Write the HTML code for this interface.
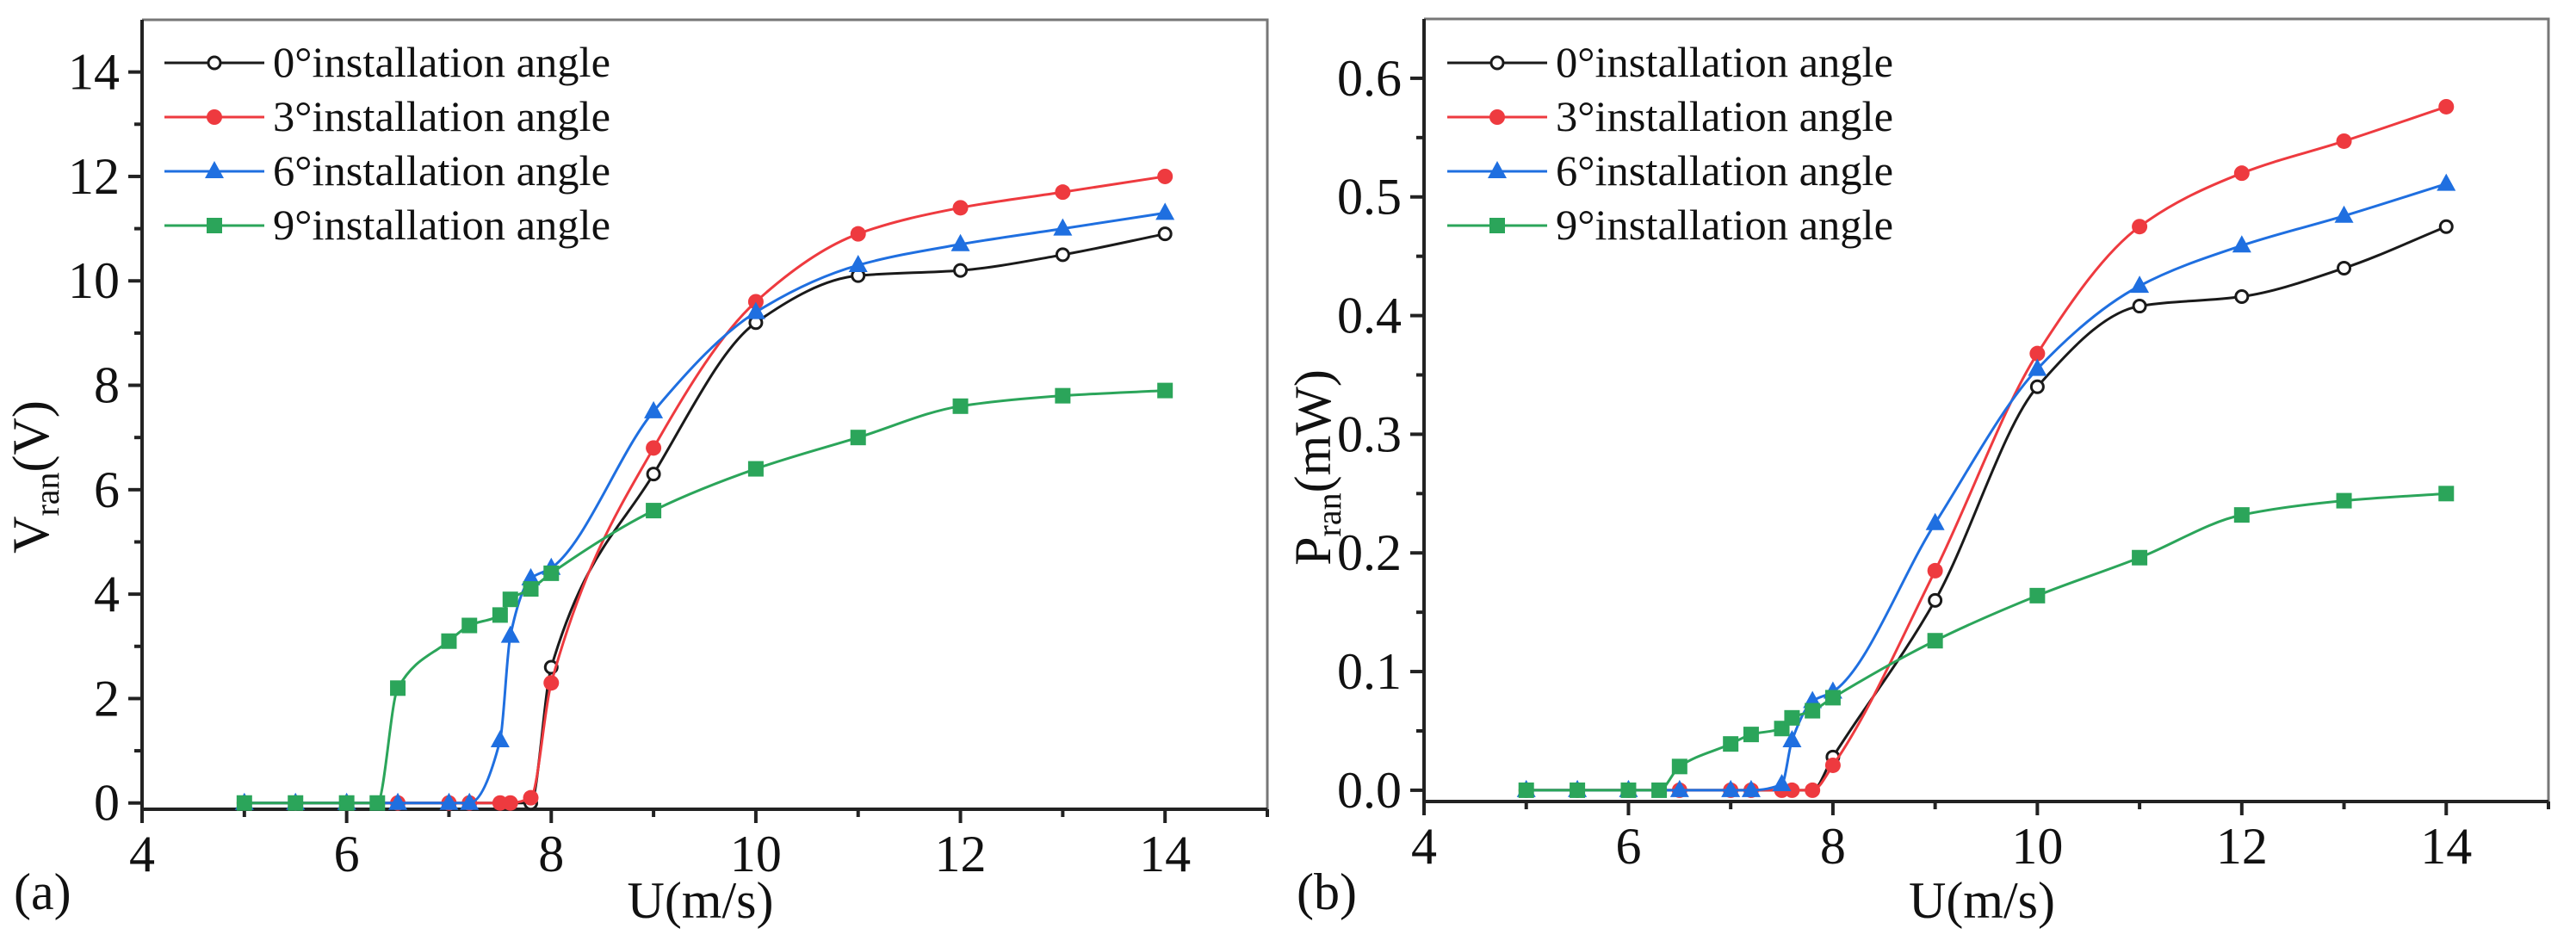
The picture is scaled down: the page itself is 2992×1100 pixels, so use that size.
<!DOCTYPE html>
<html><head><meta charset="utf-8"><style>
html,body{margin:0;padding:0;background:#fff;}
svg{display:block;}
text{font-family:"Liberation Serif","DejaVu Serif",serif;}
</style></head><body>
<svg id="chart" width="2992" height="1100" viewBox="0 0 2992 1100" xmlns="http://www.w3.org/2000/svg" font-family="Liberation Serif, DejaVu Serif, serif"></svg>
<script>
const xs0 = [5,5.5,6,6.5,7,7.2,7.5,7.6,7.8,8,9,10,11,12,13,14];
const xs9 = [5,5.5,6,6.3,6.5,7,7.2,7.5,7.6,7.8,8,9,10,11,12,13,14];
const seriesNames = ["0°installation angle","3°installation angle","6°installation angle","9°installation angle"];
const vA0 = [0,0,0,0,0,0,0,0,0,2.6,6.3,9.2,10.1,10.2,10.5,10.9];
const vA3 = [0,0,0,0,0,0,0,0,0.1,2.3,6.8,9.6,10.9,11.4,11.7,12.0];
const vA6 = [0,0,0,0,0,0,1.2,3.2,4.3,4.5,7.5,9.4,10.3,10.7,11.0,11.3];
const vA9 = [0,0,0,0,2.2,3.1,3.4,3.6,3.9,4.1,4.4,5.6,6.4,7.0,7.6,7.8,7.9];
const vB0 = [0,0,0,0,0,0,0,0,0,0.028,0.16,0.34,0.408,0.416,0.44,0.475];
const vB3 = [0,0,0,0,0,0,0,0,0,0.021,0.185,0.368,0.475,0.52,0.547,0.576];
const vB6 = [0,0,0,0,0,0,0.005,0.042,0.075,0.083,0.225,0.355,0.425,0.459,0.484,0.511];
const vB9 = [0,0,0,0,0.02,0.039,0.047,0.052,0.061,0.067,0.078,0.126,0.164,0.196,0.232,0.244,0.25];
const xTicks = [4,6,8,10,12,14];
const yTicksA = [0,2,4,6,8,10,12,14];
const yTicksB = [0,0.1,0.2,0.3,0.4,0.5,0.6];
const yTickLabelsB = ["0.0","0.1","0.2","0.3","0.4","0.5","0.6"];

const NS="http://www.w3.org/2000/svg";
const svg=document.getElementById('chart');
const FF='"Liberation Serif","DejaVu Serif",serif';
function mk(tag,attrs,parent){const e=document.createElementNS(NS,tag);for(const k in attrs)e.setAttribute(k,attrs[k]);if(tag==='text')e.style.fontFamily=FF;(parent||svg).appendChild(e);return e;}
const colors=["#1a1a1a","#ee3a3f","#1f6fe0","#2ba55a"];

function monotone(pts){
  const n=pts.length;if(n<2)return '';
  const dx=[],s=[];
  for(let i=0;i<n-1;i++){dx.push(pts[i+1][0]-pts[i][0]);s.push((pts[i+1][1]-pts[i][1])/dx[i]);}
  const m=[s[0]];
  for(let i=1;i<n-1;i++){ if(s[i-1]*s[i]<=0)m.push(0); else m.push(3*(dx[i-1]+dx[i])/((2*dx[i]+dx[i-1])/s[i-1]+(dx[i]+2*dx[i-1])/s[i]));}
  m.push(s[n-2]);
  let d=`M${pts[0][0]},${pts[0][1]}`;
  for(let i=0;i<n-1;i++){const h=dx[i];
    d+=` C${pts[i][0]+h/3},${pts[i][1]+m[i]*h/3} ${pts[i+1][0]-h/3},${pts[i+1][1]-m[i+1]*h/3} ${pts[i+1][0]},${pts[i+1][1]}`;}
  return d;
}
function marker(g,k,x,y,name){
  let e;
  if(k===0) e=mk('circle',{cx:x,cy:y,r:7,fill:'#fff',stroke:colors[0],'stroke-width':3},g);
  else if(k===1) e=mk('circle',{cx:x,cy:y,r:9,fill:colors[1]},g);
  else if(k===2) e=mk('polygon',{points:`${x},${y-12} ${x-11},${y+8} ${x+11},${y+8}`,fill:colors[2]},g);
  else e=mk('rect',{x:x-9,y:y-9,width:18,height:18,fill:colors[3]},g);
  
  
}

function panel(o){
  const g=mk('g',{});
  
  
  const X=v=>o.L+(v-4)/(15-4)*(o.R-o.L);
  const Y=v=>o.B-(v-o.ymin)/(o.ymax-o.ymin)*(o.B-o.T);
  const fr=mk('path',{d:`M${o.L},${o.T} H${o.R} V${o.B}`,fill:'none',stroke:'#777','stroke-width':3},g);
  
  const ax=mk('path',{d:`M${o.L},${o.T} V${o.B} H${o.R}`,fill:'none',stroke:'#222','stroke-width':4},g);
  
  for(let v=4;v<=15;v+=1){const maj=xTicks.includes(v);
    mk('line',{x1:X(v),x2:X(v),y1:o.B,y2:o.B+(maj?16:9),stroke:'#222','stroke-width':4},g);}
  xTicks.forEach(v=>{const t=mk('text',{x:X(v),y:o.B+72,'font-size':60,'text-anchor':'middle',fill:'#111'},g);t.textContent=v;
    });
  for(let i=0;i<o.yticks.length;i++){const v=o.yticks[i];
    mk('line',{x1:o.L-16,x2:o.L,y1:Y(v),y2:Y(v),stroke:'#222','stroke-width':4},g);
    const vm=v+o.step/2; if(Y(vm)>o.T) mk('line',{x1:o.L-9,x2:o.L,y1:Y(vm),y2:Y(vm),stroke:'#222','stroke-width':4},g);
    const t=mk('text',{x:o.L-26,y:Y(v)+20,'font-size':60,'text-anchor':'end',fill:'#111'},g);t.textContent=o.ylabels[i];
    }
  o.series.forEach((s,k)=>{
    const xs=k===3?xs9:xs0;
    const pts=xs.map((x,i)=>[X(x),Y(s[i])]);
    const p=mk('path',{d:monotone(pts),fill:'none',stroke:colors[k],'stroke-width':3},g);
    
    pts.forEach(q=>marker(g,k,q[0],q[1],'point-'+k*3+'deg'));
  });
  seriesNames.forEach((n,k)=>{
    const y=o.legY+k*63;
    const lg=mk('g',{},g);
    mk('line',{x1:o.legX,x2:o.legX+116,y1:y,y2:y,stroke:colors[k],'stroke-width':3},lg);
    marker(lg,k,o.legX+58,y,'legend-marker');
    const t=mk('text',{x:o.legX+126,y:y+16,'font-size':50,fill:'#111',textLength:392,lengthAdjust:'spacingAndGlyphs'},lg);t.textContent=n;
  });
  const xl=mk('text',{x:(o.L+o.R)/2-5,y:1066,'font-size':60,'text-anchor':'middle',fill:'#111'},g);xl.textContent='U(m/s)';
  
  const pl=mk('text',{x:o.tagX,y:1056,'font-size':60,fill:'#111'},g);pl.textContent=o.tag;
  
  const yl=mk('text',{transform:`translate(${o.ylx},${o.yly}) rotate(-90)`,'font-size':60,'text-anchor':'middle',fill:'#111'},g);
  
  yl.innerHTML=o.ylab;
}
panel({id:'voltage',L:165,R:1472,T:23,B:940,ymin:-0.12,ymax:15,yticks:yTicksA,ylabels:yTicksA.map(String),step:2,
  series:[vA0,vA3,vA6,vA9],legX:191,legY:73,tag:'(a)',tagX:16,ylx:56,yly:554,
  ylab:'V<tspan font-size="40" dy="12">ran</tspan><tspan dy="-12">(V)</tspan>'});
panel({id:'power',L:1654,R:2960,T:22,B:931,ymin:-0.0095,ymax:0.65,yticks:yTicksB,ylabels:yTickLabelsB,step:0.1,
  series:[vB0,vB3,vB6,vB9],legX:1681,legY:73,tag:'(b)',tagX:1506,ylx:1545,yly:543,
  ylab:'P<tspan font-size="40" dy="12">ran</tspan><tspan dy="-12">(mW)</tspan>'});
</script>
</body></html>
